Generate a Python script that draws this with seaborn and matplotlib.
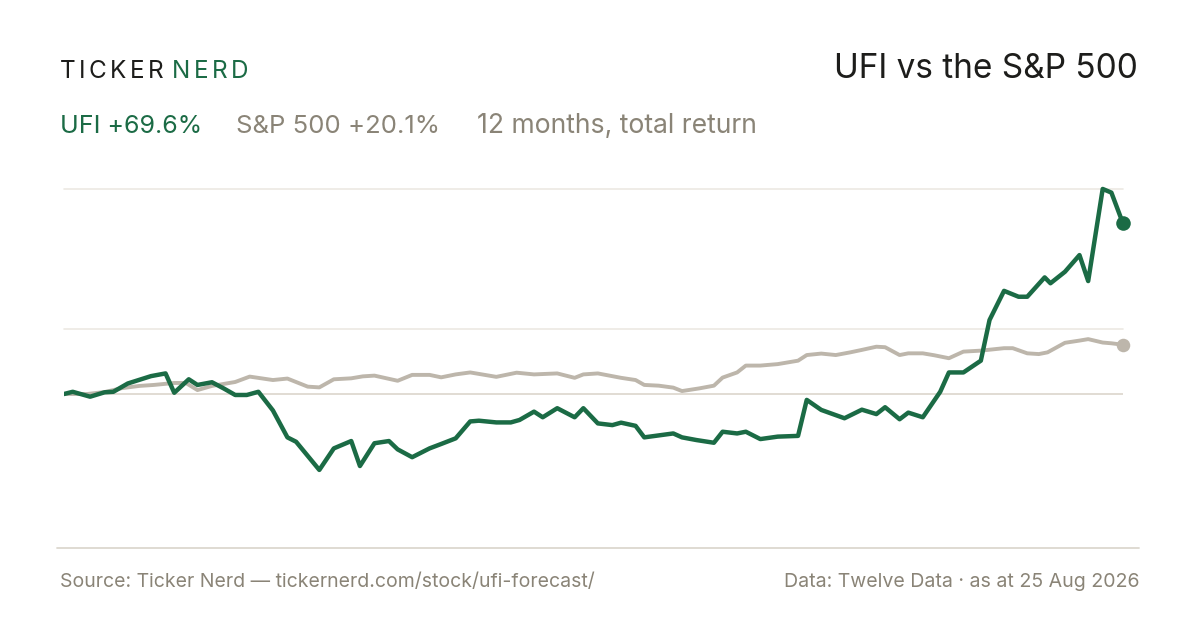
import pandas as pd
import seaborn as sns
import matplotlib
matplotlib.use('Agg')
import matplotlib.pyplot as plt
from matplotlib.lines import Line2D

# days since start (25 Aug 2025) and total return in %
ufi_days = [0, 3, 9, 14, 17, 22, 30, 35, 38, 43, 46, 51, 55, 59, 63, 67, 72, 77, 80, 88,
            93, 99, 102, 107, 112, 115, 120, 126, 130, 135, 140, 143, 149, 154, 157, 162, 165, 170, 176, 179,
            184, 189, 192, 197, 200, 210, 213, 218, 224, 227, 232, 235, 240, 246, 253, 256, 261, 269, 275, 280,
            283, 288, 291, 296, 302, 305, 310, 316, 319, 324, 329, 332, 338, 340, 345, 350, 353, 358, 361, 365]
ufi_ret = [0.0, 0.9, -1.1, 0.7, 0.9, 4.3, 7.3, 8.4, 0.5, 6.0, 3.7, 4.8, 2.3, -0.4, -0.4, 0.9, -6.7, -17.7, -19.5, -31.0,
           -22.2, -19.2, -29.4, -20.1, -19.2, -22.6, -25.8, -22.2, -20.4, -18.1, -11.2, -10.9, -11.6, -11.6, -10.6, -7.2, -9.5, -5.8, -9.5, -5.8,
           -12.0, -12.7, -11.7, -13.0, -17.7, -16.1, -17.7, -18.8, -19.9, -15.4, -16.1, -15.4, -18.4, -17.4, -17.1, -2.4, -6.5, -9.9, -6.4, -8.2,
           -5.4, -10.3, -7.6, -9.5, 0.9, 8.8, 8.8, 13.6, 30.2, 42.1, 39.7, 39.7, 47.6, 45.2, 49.9, 56.7, 46.1, 83.7, 82.2, 69.6]

spx_days = [0, 8, 14, 20, 26, 31, 38, 42, 46, 51, 59, 64, 72, 77, 84, 88, 93, 99, 103, 107,
            115, 120, 126, 130, 135, 140, 149, 156, 162, 170, 176, 179, 184, 192, 197, 200, 205, 210, 213, 219,
            224, 227, 232, 235, 240, 246, 253, 256, 261, 266, 271, 275, 280, 283, 288, 291, 296, 300, 305, 310,
            316, 324, 327, 332, 336, 339, 345, 350, 353, 358, 361, 365]
spx_ret = [0.0, 0.0, 0.8, 2.4, 3.3, 3.7, 4.5, 4.5, 1.6, 3.3, 4.9, 7.1, 5.7, 6.3, 3.0, 2.7, 6.0, 6.4, 7.2, 7.5,
           5.4, 7.8, 7.8, 6.8, 8.0, 8.8, 7.0, 8.7, 8.0, 8.4, 6.6, 8.0, 8.4, 6.6, 5.7, 3.7, 3.4, 2.6, 1.2, 2.3,
           3.4, 6.7, 8.8, 11.6, 11.6, 12.2, 13.6, 15.9, 16.5, 15.9, 17.0, 18.0, 19.3, 19.1, 15.9, 16.6, 16.6, 15.8, 14.6, 17.3,
           17.7, 18.7, 18.7, 16.6, 16.3, 17.0, 20.9, 21.8, 22.4, 21.0, 20.7, 20.1]

grid_vals = [83.7, 26.5]

start = pd.Timestamp('2025-08-25')
ufi = pd.DataFrame({'date': start + pd.to_timedelta(ufi_days, unit='D'), 'ret': ufi_ret})
spx = pd.DataFrame({'date': start + pd.to_timedelta(spx_days, unit='D'), 'ret': spx_ret})

GREEN = '#1b6b45'
SAND = '#bdb6ab'
GREY = '#8a8477'
INK = '#1d1d1b'

sns.set_theme(style='white')
plt.rcParams['font.family'] = ['Inter', 'DejaVu Sans']

W, H = 1200, 630
fig = plt.figure(figsize=(12, 6.3), dpi=100)
fig.patch.set_facecolor('white')


def fx(px):
    return px / W


def fy(py):
    return 1 - py / H


ax = fig.add_axes([fx(64), fy(548), fx(1123) - fx(64), fy(180) - fy(548)])
ax.set_facecolor('none')

for g in grid_vals:
    ax.axhline(g, color='#ece9e3', lw=1.2, zorder=0, clip_on=False)
ax.axhline(0, color='#dcd6cc', lw=1.2, zorder=0)

sns.lineplot(data=spx, x='date', y='ret', ax=ax, color=SAND, lw=2.8, zorder=2)
sns.lineplot(data=ufi, x='date', y='ret', ax=ax, color=GREEN, lw=3.2, zorder=3)
ax.scatter([spx['date'].iloc[-1]], [spx['ret'].iloc[-1]], s=95, color=SAND, zorder=4, clip_on=False, lw=0)
ax.scatter([ufi['date'].iloc[-1]], [ufi['ret'].iloc[-1]], s=110, color=GREEN, zorder=5, clip_on=False, lw=0)

ax.set_xlim(ufi['date'].iloc[0], ufi['date'].iloc[-1])
ax.set_ylim(-62.86, 87.35)
ax.set_xticks([])
ax.set_yticks([])
ax.set_xlabel('')
ax.set_ylabel('')
sns.despine(ax=ax, left=True, bottom=True)

# footer rule
fig.add_artist(Line2D([fx(57), fx(1139)], [fy(548), fy(548)], color='#dcd8cf', lw=1.3))

# logo with letter spacing
renderer = fig.canvas.get_renderer()
x = 60
for word, col in [('TICKER', INK), ('NERD', GREEN)]:
    for ch in word:
        t = fig.text(fx(x), fy(78), ch, color=col, fontsize=17.5, va='baseline', ha='left')
        bb = t.get_window_extent(renderer=renderer)
        x += bb.width + 3.4
    x += 5

fig.text(fx(1138), fy(78), 'UFI vs the S&P 500', color=INK, fontsize=24, ha='right', va='baseline')

fig.text(fx(60), fy(133), 'UFI +69.6%', color=GREEN, fontsize=18, va='baseline')
fig.text(fx(236), fy(133), 'S&P 500 +20.1%', color=GREY, fontsize=18.5, va='baseline')
fig.text(fx(477), fy(133), '12 months, total return', color=GREY, fontsize=19.1, va='baseline')

fig.text(fx(60), fy(587), 'Source: Ticker Nerd \u2014 tickernerd.com/stock/ufi-forecast/', color=GREY, fontsize=14.0, va='baseline')
fig.text(fx(1139), fy(587), 'Data: Twelve Data \u00b7 as at 25 Aug 2026', color=GREY, fontsize=14.1, va='baseline', ha='right')

fig.savefig('out.png', dpi=100, facecolor='white')
